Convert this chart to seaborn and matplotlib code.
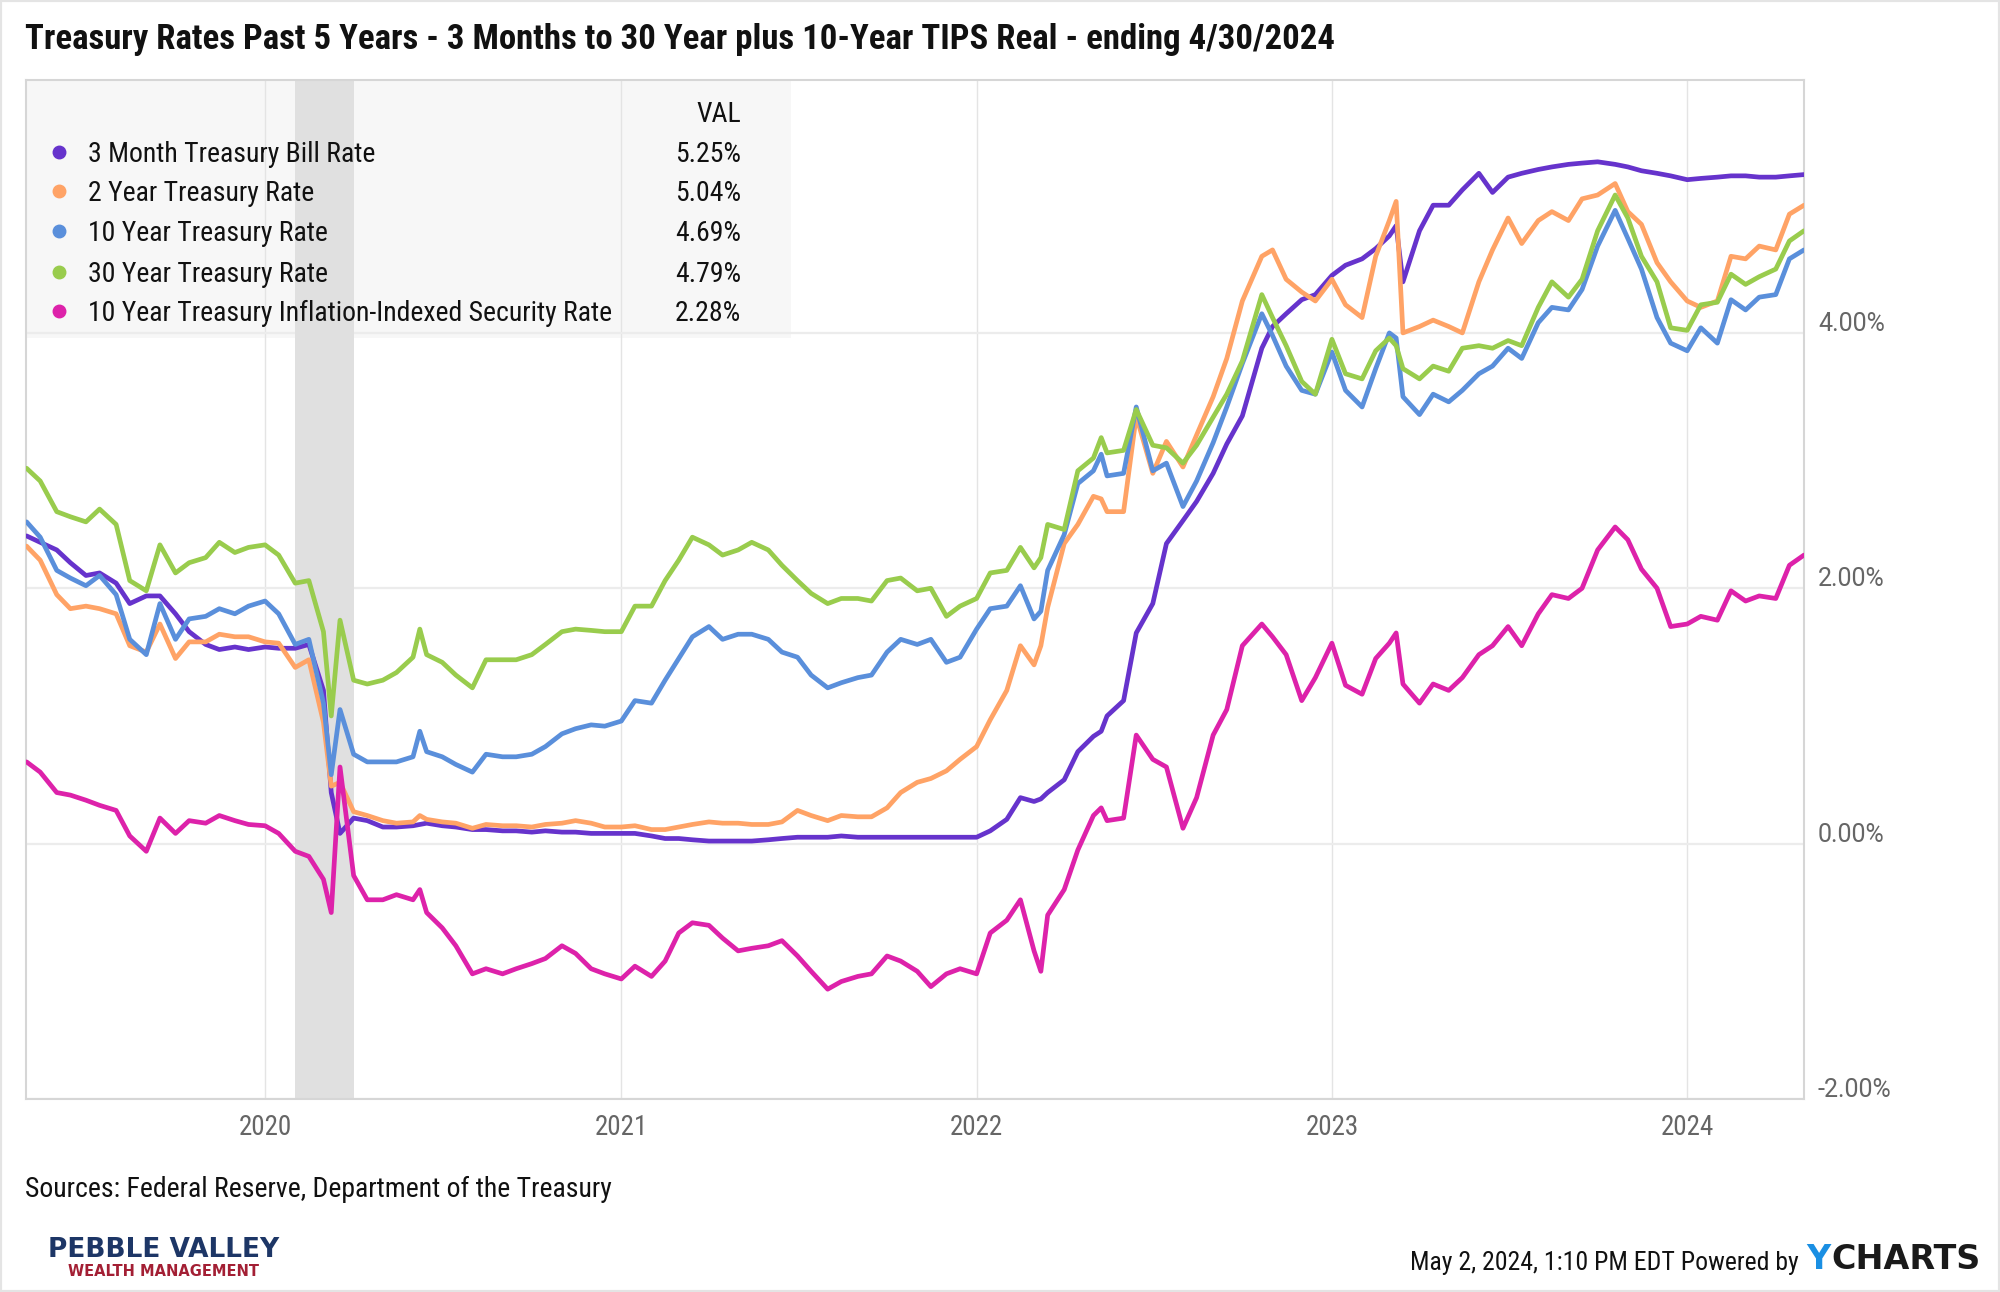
import numpy as np
import pandas as pd
import matplotlib
matplotlib.use("Agg")
import matplotlib.pyplot as plt
import matplotlib.dates as mdates
import matplotlib.transforms as mtransforms
from matplotlib.patches import Rectangle
import seaborn as sns

# semi-monthly sample dates (plus a few turning points)
dates_2019 = ["2019-05-01", "2019-05-15", "2019-06-01", "2019-06-15", "2019-07-01", "2019-07-15",
              "2019-08-01", "2019-08-15", "2019-09-01", "2019-09-15", "2019-10-01", "2019-10-15",
              "2019-11-01", "2019-11-15", "2019-12-01", "2019-12-15"]
dates_2020 = ["2020-01-01", "2020-01-15", "2020-02-01", "2020-02-15", "2020-03-01", "2020-03-09",
              "2020-03-18", "2020-04-01", "2020-04-15", "2020-05-01", "2020-05-15", "2020-06-01",
              "2020-06-08", "2020-06-15", "2020-07-01", "2020-07-15", "2020-08-01", "2020-08-15",
              "2020-09-01", "2020-09-15", "2020-10-01", "2020-10-15", "2020-11-01", "2020-11-15",
              "2020-12-01", "2020-12-15"]
dates_2021 = ["2021-01-01", "2021-01-15", "2021-02-01", "2021-02-15", "2021-03-01", "2021-03-15",
              "2021-04-01", "2021-04-15", "2021-05-01", "2021-05-15", "2021-06-01", "2021-06-15",
              "2021-07-01", "2021-07-15", "2021-08-01", "2021-08-15", "2021-09-01", "2021-09-15",
              "2021-10-01", "2021-10-15", "2021-11-01", "2021-11-15", "2021-12-01", "2021-12-15"]
dates_2022 = ["2022-01-01", "2022-01-15", "2022-02-01", "2022-02-15", "2022-03-01", "2022-03-08",
              "2022-03-15", "2022-04-01", "2022-04-15", "2022-05-01", "2022-05-09", "2022-05-15",
              "2022-06-01", "2022-06-14", "2022-07-01", "2022-07-15", "2022-08-01", "2022-08-15",
              "2022-09-01", "2022-09-15", "2022-10-01", "2022-10-21", "2022-11-01", "2022-11-15",
              "2022-12-01", "2022-12-15"]
dates_2023 = ["2023-01-01", "2023-01-15", "2023-02-01", "2023-02-15", "2023-03-01", "2023-03-08",
              "2023-03-15", "2023-04-01", "2023-04-15", "2023-05-01", "2023-05-15", "2023-06-01",
              "2023-06-15", "2023-07-01", "2023-07-15", "2023-08-01", "2023-08-15", "2023-09-01",
              "2023-09-15", "2023-10-01", "2023-10-19", "2023-11-01", "2023-11-15", "2023-12-01",
              "2023-12-15"]
dates_2024 = ["2024-01-01", "2024-01-15", "2024-02-01", "2024-02-15", "2024-03-01", "2024-03-15",
              "2024-04-01", "2024-04-15", "2024-04-30"]
dates = dates_2019 + dates_2020 + dates_2021 + dates_2022 + dates_2023 + dates_2024

bill_3m = [2.41, 2.36, 2.30, 2.20, 2.10, 2.12, 2.04, 1.88, 1.94, 1.94, 1.80, 1.66, 1.56, 1.52, 1.54, 1.52,
           1.54, 1.53, 1.53, 1.56, 1.20, 0.40, 0.08, 0.20, 0.18, 0.13, 0.13, 0.14, 0.15, 0.16, 0.14, 0.13,
           0.11, 0.11, 0.10, 0.10, 0.09, 0.10, 0.09, 0.09, 0.08, 0.08,
           0.08, 0.08, 0.06, 0.04, 0.04, 0.03, 0.02, 0.02, 0.02, 0.02, 0.03, 0.04, 0.05, 0.05, 0.05, 0.06,
           0.05, 0.05, 0.05, 0.05, 0.05, 0.05, 0.05, 0.05,
           0.05, 0.10, 0.19, 0.36, 0.33, 0.35, 0.40, 0.50, 0.72, 0.84, 0.88, 1.00, 1.12, 1.65, 1.88, 2.35,
           2.53, 2.68, 2.90, 3.13, 3.35, 3.88, 4.05, 4.15, 4.26, 4.30,
           4.45, 4.53, 4.58, 4.66, 4.76, 4.84, 4.40, 4.80, 5.00, 5.00, 5.12, 5.25, 5.10, 5.22, 5.25, 5.28,
           5.30, 5.32, 5.33, 5.34, 5.32, 5.30, 5.27, 5.25, 5.23,
           5.20, 5.21, 5.22, 5.23, 5.23, 5.22, 5.22, 5.23, 5.24]

note_2y = [2.33, 2.22, 1.95, 1.84, 1.86, 1.84, 1.80, 1.55, 1.50, 1.72, 1.45, 1.58, 1.58, 1.64, 1.62, 1.62,
           1.58, 1.57, 1.38, 1.44, 0.95, 0.45, 0.48, 0.25, 0.22, 0.18, 0.16, 0.17, 0.22, 0.19, 0.17, 0.16,
           0.12, 0.15, 0.14, 0.14, 0.13, 0.15, 0.16, 0.18, 0.16, 0.13,
           0.13, 0.14, 0.11, 0.11, 0.13, 0.15, 0.17, 0.16, 0.16, 0.15, 0.15, 0.17, 0.26, 0.22, 0.18, 0.22,
           0.21, 0.21, 0.28, 0.40, 0.48, 0.51, 0.57, 0.66,
           0.76, 0.97, 1.20, 1.55, 1.40, 1.55, 1.85, 2.35, 2.50, 2.72, 2.70, 2.60, 2.60, 3.35, 2.90, 3.15,
           2.95, 3.20, 3.50, 3.80, 4.25, 4.60, 4.65, 4.42, 4.32, 4.25,
           4.42, 4.22, 4.12, 4.60, 4.88, 5.03, 4.00, 4.05, 4.10, 4.05, 4.00, 4.40, 4.65, 4.90, 4.70, 4.88,
           4.95, 4.88, 5.05, 5.08, 5.17, 4.95, 4.85, 4.55, 4.40,
           4.25, 4.20, 4.25, 4.60, 4.58, 4.68, 4.65, 4.93, 5.00]

note_10y = [2.52, 2.40, 2.14, 2.08, 2.02, 2.10, 1.95, 1.60, 1.48, 1.88, 1.60, 1.76, 1.78, 1.84, 1.80, 1.86,
            1.90, 1.80, 1.56, 1.60, 1.10, 0.54, 1.05, 0.70, 0.64, 0.64, 0.64, 0.68, 0.88, 0.72, 0.68, 0.62,
            0.56, 0.70, 0.68, 0.68, 0.70, 0.76, 0.86, 0.90, 0.93, 0.92,
            0.96, 1.12, 1.10, 1.28, 1.45, 1.62, 1.70, 1.60, 1.64, 1.64, 1.60, 1.50, 1.46, 1.32, 1.22, 1.26,
            1.30, 1.32, 1.50, 1.60, 1.56, 1.60, 1.42, 1.46,
            1.68, 1.84, 1.86, 2.02, 1.76, 1.82, 2.14, 2.42, 2.82, 2.92, 3.05, 2.88, 2.90, 3.42, 2.92, 2.98,
            2.64, 2.84, 3.14, 3.42, 3.76, 4.15, 3.98, 3.74, 3.55, 3.52,
            3.85, 3.55, 3.42, 3.72, 4.00, 3.96, 3.50, 3.36, 3.52, 3.46, 3.55, 3.68, 3.74, 3.88, 3.80, 4.08,
            4.20, 4.18, 4.34, 4.68, 4.96, 4.74, 4.50, 4.12, 3.92,
            3.86, 4.04, 3.92, 4.26, 4.18, 4.28, 4.30, 4.58, 4.65]

bond_30y = [2.94, 2.84, 2.60, 2.56, 2.52, 2.62, 2.50, 2.06, 1.98, 2.34, 2.12, 2.20, 2.24, 2.36, 2.28, 2.32,
            2.34, 2.26, 2.04, 2.06, 1.66, 1.00, 1.75, 1.28, 1.25, 1.28, 1.34, 1.46, 1.68, 1.48, 1.42, 1.32,
            1.22, 1.44, 1.44, 1.44, 1.48, 1.56, 1.66, 1.68, 1.67, 1.66,
            1.66, 1.86, 1.86, 2.06, 2.22, 2.40, 2.34, 2.26, 2.30, 2.36, 2.30, 2.18, 2.06, 1.96, 1.88, 1.92,
            1.92, 1.90, 2.06, 2.08, 1.98, 2.00, 1.78, 1.86,
            1.92, 2.12, 2.14, 2.32, 2.16, 2.24, 2.50, 2.46, 2.92, 3.02, 3.18, 3.06, 3.08, 3.40, 3.12, 3.10,
            2.98, 3.12, 3.34, 3.52, 3.78, 4.30, 4.12, 3.90, 3.62, 3.52,
            3.95, 3.68, 3.64, 3.86, 3.96, 3.90, 3.72, 3.64, 3.74, 3.70, 3.88, 3.90, 3.88, 3.94, 3.90, 4.20,
            4.40, 4.28, 4.42, 4.80, 5.08, 4.90, 4.60, 4.40, 4.04,
            4.02, 4.22, 4.24, 4.46, 4.38, 4.44, 4.50, 4.72, 4.80]

tips_10y = [0.64, 0.56, 0.40, 0.38, 0.34, 0.30, 0.26, 0.06, -0.06, 0.20, 0.08, 0.18, 0.16, 0.22, 0.18, 0.15,
            0.14, 0.08, -0.06, -0.10, -0.28, -0.54, 0.60, -0.25, -0.44, -0.44, -0.40, -0.44, -0.36, -0.54,
            -0.66, -0.80, -1.02, -0.98, -1.02, -0.98, -0.94, -0.90, -0.80, -0.86, -0.98, -1.02,
            -1.06, -0.96, -1.04, -0.92, -0.70, -0.62, -0.64, -0.74, -0.84, -0.82, -0.80, -0.76, -0.88, -1.00,
            -1.14, -1.08, -1.04, -1.02, -0.88, -0.92, -1.00, -1.12, -1.02, -0.98,
            -1.02, -0.70, -0.60, -0.44, -0.84, -1.00, -0.56, -0.36, -0.05, 0.22, 0.28, 0.18, 0.20, 0.85,
            0.66, 0.60, 0.12, 0.36, 0.85, 1.05, 1.55, 1.72, 1.62, 1.48, 1.12, 1.30,
            1.57, 1.24, 1.17, 1.45, 1.57, 1.65, 1.25, 1.10, 1.25, 1.20, 1.30, 1.48, 1.55, 1.70, 1.55, 1.80,
            1.95, 1.92, 2.00, 2.30, 2.48, 2.38, 2.15, 2.00, 1.70,
            1.72, 1.78, 1.75, 1.98, 1.90, 1.94, 1.92, 2.18, 2.26]

series_names = ["3 Month Treasury Bill Rate", "2 Year Treasury Rate", "10 Year Treasury Rate",
                "30 Year Treasury Rate", "10 Year Treasury Inflation-Indexed Security Rate"]
last_values = ["5.25%", "5.04%", "4.69%", "4.79%", "2.28%"]
colors = ["#6633CC", "#FFA366", "#5A8FDB", "#99CC4D", "#DD22AA"]
y_ticks = [-2, 0, 2, 4]
recession = ("2020-02-01", "2020-04-01")

title = "Treasury Rates Past 5 Years - 3 Months to 30 Year plus 10-Year TIPS Real - ending 4/30/2024"
source = "Sources: Federal Reserve, Department of the Treasury"
stamp = "May 2, 2024, 1:10 PM EDT Powered by"

all_series = [bill_3m, note_2y, note_10y, bond_30y, tips_10y]
for s in all_series:
    assert len(s) == len(dates)

frames = []
for name, vals in zip(series_names, all_series):
    frames.append(pd.DataFrame({"date": pd.to_datetime(dates), "rate": vals, "series": name}))
df = pd.concat(frames, ignore_index=True)

sns.set_style("white")
plt.rcParams["font.family"] = ["Roboto Condensed", "Roboto", "DejaVu Sans"]

fig = plt.figure(figsize=(20, 12.92), dpi=100)
ax = fig.add_axes([0.0128, 0.1494, 0.8892, 0.7886])

sns.lineplot(data=df, x="date", y="rate", hue="series", hue_order=series_names,
             palette=colors, linewidth=3.4, legend=False, ax=ax, zorder=3)

ymin, ymax = -2.0, 5.98
ax.set_xlim(pd.Timestamp("2019-04-30"), pd.Timestamp("2024-04-30"))
ax.set_ylim(ymin, ymax)

# recession band
ax.axvspan(pd.Timestamp(recession[0]), pd.Timestamp(recession[1]), color="#e0e0e0", lw=0, zorder=1)

# grid + frame
ax.set_axisbelow(True)
ax.set_yticks(y_ticks)
ax.set_yticklabels([])
ax.grid(axis="y", color="#ececec", lw=1.6)
ax.xaxis.set_major_locator(mdates.YearLocator())
ax.xaxis.set_major_formatter(mdates.DateFormatter("%Y"))
ax.grid(axis="x", color="#e4e4e4", lw=1.0)
ax.tick_params(axis="x", length=0, pad=11, labelsize=19.5, labelcolor="#666666")
ax.tick_params(axis="y", length=0)
ax.set_xlabel("")
ax.set_ylabel("")
for sp in ax.spines.values():
    sp.set_color("#d6d6d6")
    sp.set_linewidth(1.5)

# right-hand percent labels, sitting just above the gridlines
ylab_tr = ax.get_yaxis_transform() + mtransforms.ScaledTranslation(0.14, 0.09, fig.dpi_scale_trans)
for v in y_ticks:
    ax.text(1.0, v, f"{v:.2f}%", transform=ylab_tr, ha="left", va="center",
            fontsize=18, color="#666666", family=["Roboto", "DejaVu Sans"])

# legend table
box_top_frac = (3.96 - ymin) / (ymax - ymin)
ax.add_patch(Rectangle((0, box_top_frac), 0.4306, 1 - box_top_frac, transform=ax.transAxes,
                       facecolor="#f7f7f7", edgecolor="none", zorder=0.2))
ltr = ax.get_yaxis_transform()
ax.text(0.4022, 5.71, "VAL", transform=ltr, ha="right", va="center", fontsize=20, color="#111111")
row_y = [5.40, 5.09, 4.78, 4.46, 4.15]
for yy, name, val, col in zip(row_y, series_names, last_values, colors):
    ax.plot([0.0187], [yy + 0.02], marker="o", ms=9, color=col, transform=ltr, clip_on=False, zorder=4)
    ax.text(0.0351, yy, name, transform=ltr, ha="left", va="center", fontsize=20, color="#111111")
    ax.text(0.4022, yy, val, transform=ltr, ha="right", va="center", fontsize=20, color="#111111")

# title and footer
fig.text(25 / 2000, 1 - 39 / 1292, title, fontsize=25, fontweight="bold", va="center", color="#111111")
fig.text(25 / 2000, 1 - 1189 / 1292, source, fontsize=20, va="center", color="#111111")
fig.text(164 / 2000, 1 - 1250 / 1292, "PEBBLE VALLEY", fontsize=19, fontweight="bold",
         ha="center", va="center", color="#1d3666", family=["DejaVu Sans"])
fig.text(164 / 2000, 1 - 1271 / 1292, "WEALTH MANAGEMENT", fontsize=10.5, fontweight="bold",
         ha="center", va="center", color="#a31f34", family=["DejaVu Sans"])

t_charts = fig.text(1981 / 2000, 1 - 1276 / 1292, "CHARTS", fontsize=24, fontweight="bold",
                    ha="right", va="bottom", color="#1a1a1a", family=["DejaVu Sans"])
t_y = ax.annotate("Y", xy=(0, 0), xycoords=t_charts, xytext=(-1, 0), textcoords="offset points",
                  ha="right", va="bottom", fontsize=24, fontweight="bold", color="#1a8fe3",
                  family=["DejaVu Sans"], annotation_clip=False)
ax.annotate(stamp, xy=(0, 0), xycoords=t_y, xytext=(-5, 1), textcoords="offset points",
            ha="right", va="bottom", fontsize=18.5, color="#111111", annotation_clip=False)

fig.patches.append(Rectangle((0, 0), 1, 1, transform=fig.transFigure, fill=False,
                             edgecolor="#e4e4e4", lw=3))

fig.savefig("out.png", dpi=100)
